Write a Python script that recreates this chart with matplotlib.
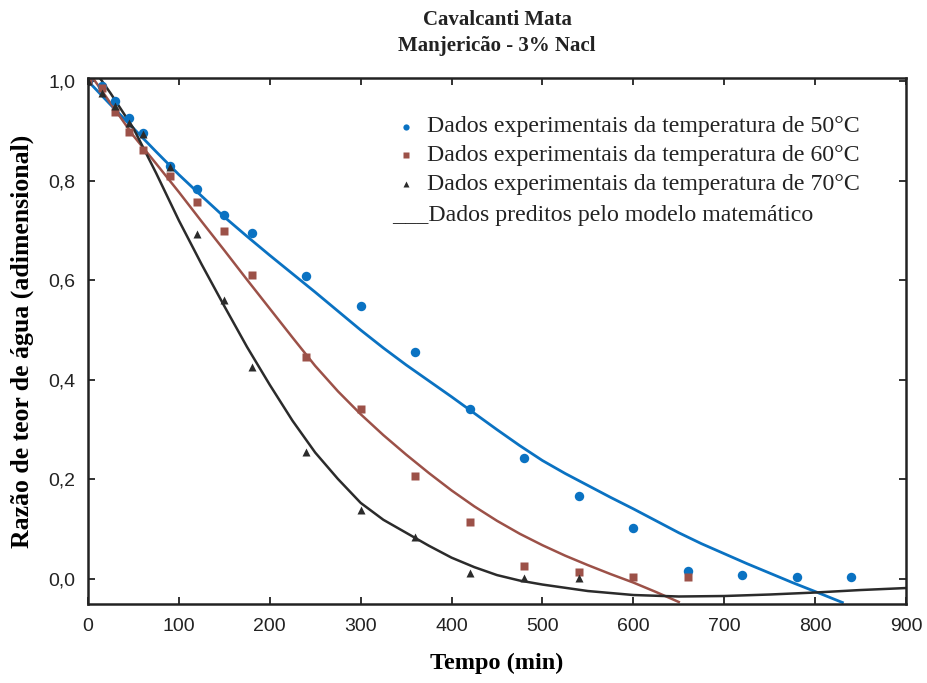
import numpy as np
import matplotlib
matplotlib.use('Agg')
import matplotlib.pyplot as plt

# dados experimentais (tempo em min, razao de teor de agua)
t_50 = [0, 15, 30, 45, 60, 90, 120, 150, 180, 240, 300, 360, 420, 480, 540, 600, 660, 720, 780, 840]
mr_50 = [1.0, 0.99, 0.96, 0.925, 0.895, 0.83, 0.783, 0.731, 0.695, 0.608, 0.548, 0.456,
         0.341, 0.243, 0.167, 0.102, 0.016, 0.008, 0.004, 0.004]

t_60 = [0, 15, 30, 45, 60, 90, 120, 150, 180, 240, 300, 360, 420, 480, 540, 600, 660]
mr_60 = [1.0, 0.985, 0.938, 0.898, 0.861, 0.809, 0.757, 0.699, 0.610, 0.446, 0.341,
         0.207, 0.114, 0.026, 0.014, 0.004, 0.004]

t_70 = [0, 15, 30, 45, 60, 90, 120, 150, 180, 240, 300, 360, 420, 480, 540]
mr_70 = [1.0, 0.976, 0.95, 0.916, 0.893, 0.827, 0.693, 0.560, 0.426, 0.255, 0.139,
         0.084, 0.012, 0.002, 0.002]

# curvas do modelo
tm_50 = [0, 25, 50, 75, 100, 125, 150, 175, 200, 225, 250, 275, 300, 325, 350, 375, 400,
         425, 450, 475, 500, 525, 550, 575, 600, 625, 650, 675, 700, 725, 750, 775, 800, 830]
mm_50 = [1.0, 0.952, 0.905, 0.858, 0.812, 0.769, 0.727, 0.688, 0.650, 0.613, 0.576, 0.538,
         0.500, 0.464, 0.43, 0.398, 0.366, 0.333, 0.30, 0.268, 0.238, 0.212, 0.188, 0.164,
         0.141, 0.117, 0.093, 0.071, 0.051, 0.031, 0.012, -0.007, -0.025, -0.047]

tm_60 = [0, 25, 50, 75, 100, 125, 150, 175, 200, 225, 250, 275, 300, 325, 350, 375, 400,
         425, 450, 475, 500, 525, 550, 575, 600, 625, 650]
mm_60 = [1.02, 0.955, 0.89, 0.834, 0.777, 0.718, 0.66, 0.601, 0.543, 0.485, 0.428, 0.377,
         0.331, 0.289, 0.25, 0.213, 0.178, 0.146, 0.117, 0.091, 0.068, 0.047, 0.028, 0.01,
         -0.007, -0.026, -0.046]

tm_70 = [0, 25, 50, 75, 100, 125, 150, 175, 200, 225, 250, 275, 300, 325, 350, 375, 400,
         425, 450, 475, 500, 550, 600, 650, 700, 750, 800, 850, 900]
mm_70 = [1.04, 0.975, 0.905, 0.815, 0.72, 0.632, 0.548, 0.466, 0.39, 0.318, 0.254, 0.201,
         0.153, 0.119, 0.093, 0.067, 0.043, 0.024, 0.008, -0.003, -0.011, -0.024, -0.032,
         -0.035, -0.034, -0.031, -0.027, -0.022, -0.018]

x_ticks = [0, 100, 200, 300, 400, 500, 600, 700, 800, 900]
y_ticks = [0.0, 0.2, 0.4, 0.6, 0.8, 1.0]
y_tick_labels = ['0,0', '0,2', '0,4', '0,6', '0,8', '1,0']

legend_labels = ['Dados experimentais da temperatura de 50°C',
                 'Dados experimentais da temperatura de 60°C',
                 'Dados experimentais da temperatura de 70°C']

C_BLUE = '#0a72c2'
C_RED = '#9c5148'
C_BLACK = '#2b2b2b'

serif = ['Liberation Serif', 'DejaVu Serif']
sans = ['Liberation Sans', 'DejaVu Sans']

fig = plt.figure(figsize=(9.28, 6.83), dpi=100)
ax = fig.add_axes([0.0948, 0.1157, 0.8815, 0.7701])

ax.plot(tm_50, mm_50, '-', color=C_BLUE, lw=2.0)
ax.plot(tm_60, mm_60, '-', color=C_RED, lw=1.8)
ax.plot(tm_70, mm_70, '-', color=C_BLACK, lw=1.8)

ax.plot(t_50, mr_50, 'o', color=C_BLUE, ms=6.8, mec='none')
ax.plot(t_60, mr_60, 's', color=C_RED, ms=6.2, mec='none')
ax.plot(t_70, mr_70, '^', color=C_BLACK, ms=6.2, mec='none')

ax.set_xlim(0, 900)
ax.set_ylim(-0.05, 1.006)
ax.set_xticks(x_ticks)
ax.set_xticklabels([str(v) for v in x_ticks], family=sans, fontsize=14)
ax.set_yticks(y_ticks)
ax.set_yticklabels(y_tick_labels, family=sans, fontsize=14)
ax.tick_params(direction='in', length=5, width=1.3, top=True, right=True, colors='#222222')
ax.tick_params(axis='x', pad=10)
ax.tick_params(axis='y', pad=9)
for s in ax.spines.values():
    s.set_linewidth(1.8)
    s.set_color('#222222')

ax.set_xlabel('Tempo (min)', family=serif, fontsize=17.5, fontweight='bold', labelpad=13)
ax.set_ylabel('Razão de teor de água (adimensional)', family=serif, fontsize=18.5,
              fontweight='bold', labelpad=10)

fig.text(0.5355, 0.971, 'Cavalcanti Mata', family=serif, fontsize=15, fontweight='bold',
         ha='center', va='center', color='#222222')
fig.text(0.5355, 0.932, 'Manjericão - 3% Nacl', family=serif, fontsize=15, fontweight='bold',
         ha='center', va='center', color='#222222')

# legenda manual
rows_y = [0.907, 0.853, 0.798, 0.738]
mk = [('o', C_BLUE, 4.5), ('s', C_RED, 4.5), ('^', C_BLACK, 4.5)]
for (m, c, s), lab, yy in zip(mk, legend_labels, rows_y):
    ax.plot([0.389], [yy], m, color=c, ms=s, mec='none', transform=ax.transAxes, clip_on=False)
    ax.text(0.414, yy, lab, transform=ax.transAxes, family=serif, fontsize=17.2,
            va='center', ha='left', color='#222222')
ax.text(0.372, rows_y[3], '___Dados preditos pelo modelo matemático', transform=ax.transAxes,
        family=serif, fontsize=17.2, va='center', ha='left', color='#222222')

fig.savefig('out.png', dpi=100)
